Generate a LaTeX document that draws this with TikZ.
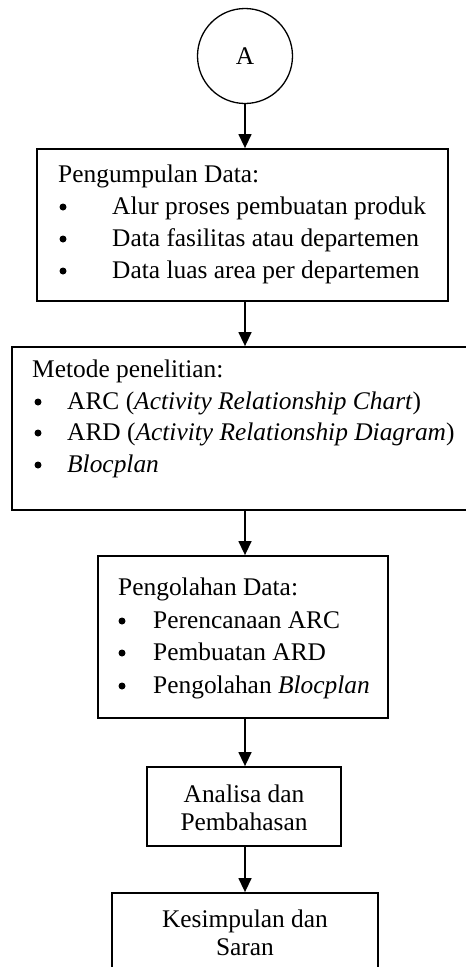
\documentclass[tikz,border=0pt]{standalone}
\usepackage{fontspec}
\setmainfont{Liberation Serif}
\usetikzlibrary{arrows.meta}
\begin{document}
\begin{tikzpicture}[x=1pt,y=-1pt,
  box/.style={draw,line width=1.8pt,rectangle,inner sep=0pt},
  arr/.style={line width=1.4pt,-{Triangle[width=13pt,length=14pt]}},
  txt/.style={anchor=base west,inner sep=0pt,font=\fontsize{25.4}{30}\selectfont},
  ctxt/.style={anchor=base,inner sep=0pt,font=\fontsize{25.4}{30}\selectfont},
  bul/.style={circle,fill,inner sep=0pt,minimum size=7pt}]
\useasboundingbox (0,0) rectangle (466,967);
\clip (0,0) rectangle (466,967);
% circle connector
\node[draw,circle,line width=1.3pt,minimum size=95pt,inner sep=0pt,font=\fontsize{25.4}{30}\selectfont] (c) at (245,56) {A};
% boxes
\node[box,minimum width=411pt,minimum height=152pt] (b1) at (242.5,225) {};
\node[box,minimum width=458pt,minimum height=163pt] (b2) at (241,428.5) {};
\node[box,minimum width=290pt,minimum height=162pt] (b3) at (243,637) {};
\node[box,minimum width=194pt,minimum height=79pt] (b4) at (244,806.5) {};
\node[box,minimum width=266pt,minimum height=100pt] (b5) at (245,943) {};
% box 1 text
\node[txt] (t1) at (58,182) {Pengumpulan Data:};
\node[bul] (p11) at (63,207) {};
\node[bul] (p12) at (63,239) {};
\node[bul] (p13) at (63,271) {};
\node[txt] (t11) at (112,214) {Alur proses pembuatan produk};
\node[txt] (t12) at (112,246) {Data fasilitas atau departemen};
\node[txt] (t13) at (112,278) {Data luas area per departemen};
% box 2 text
\node[txt] (t2) at (32,377) {Metode penelitian:};
\node[bul] (p21) at (38,402) {};
\node[bul] (p22) at (38,433) {};
\node[bul] (p23) at (38,465) {};
\node[txt] (t21) at (67,409) {ARC (\textit{Activity Relationship Chart})};
\node[txt] (t22) at (67,440) {ARD (\textit{Activity Relationship Diagram})};
\node[txt] (t23) at (67,472) {\textit{Blocplan}};
% box 3 text
\node[txt] (t3) at (118,595) {Pengolahan Data:};
\node[bul] (p31) at (122,621) {};
\node[bul] (p32) at (122,653) {};
\node[bul] (p33) at (122,686) {};
\node[txt] (t31) at (153,628) {Perencanaan ARC};
\node[txt] (t32) at (153,660) {Pembuatan ARD};
\node[txt] (t33) at (153,693) {Pengolahan \textit{Blocplan}};
% box 4 text
\node[ctxt] (t41) at (244,802) {Analisa dan};
\node[ctxt] (t42) at (244,830) {Pembahasan};
% box 5 text
\node[ctxt] (t51) at (245,927) {Kesimpulan dan};
\node[ctxt] (t52) at (245,955) {Saran};
% connectors
\draw[arr] (c.south) -- (c.south |- b1.north);
\draw[arr] (c.south |- b1.south) -- (c.south |- b2.north);
\draw[arr] (c.south |- b2.south) -- (c.south |- b3.north);
\draw[arr] (c.south |- b3.south) -- (c.south |- b4.north);
\draw[arr] (c.south |- b4.south) -- (c.south |- b5.north);
\end{tikzpicture}
\end{document}
